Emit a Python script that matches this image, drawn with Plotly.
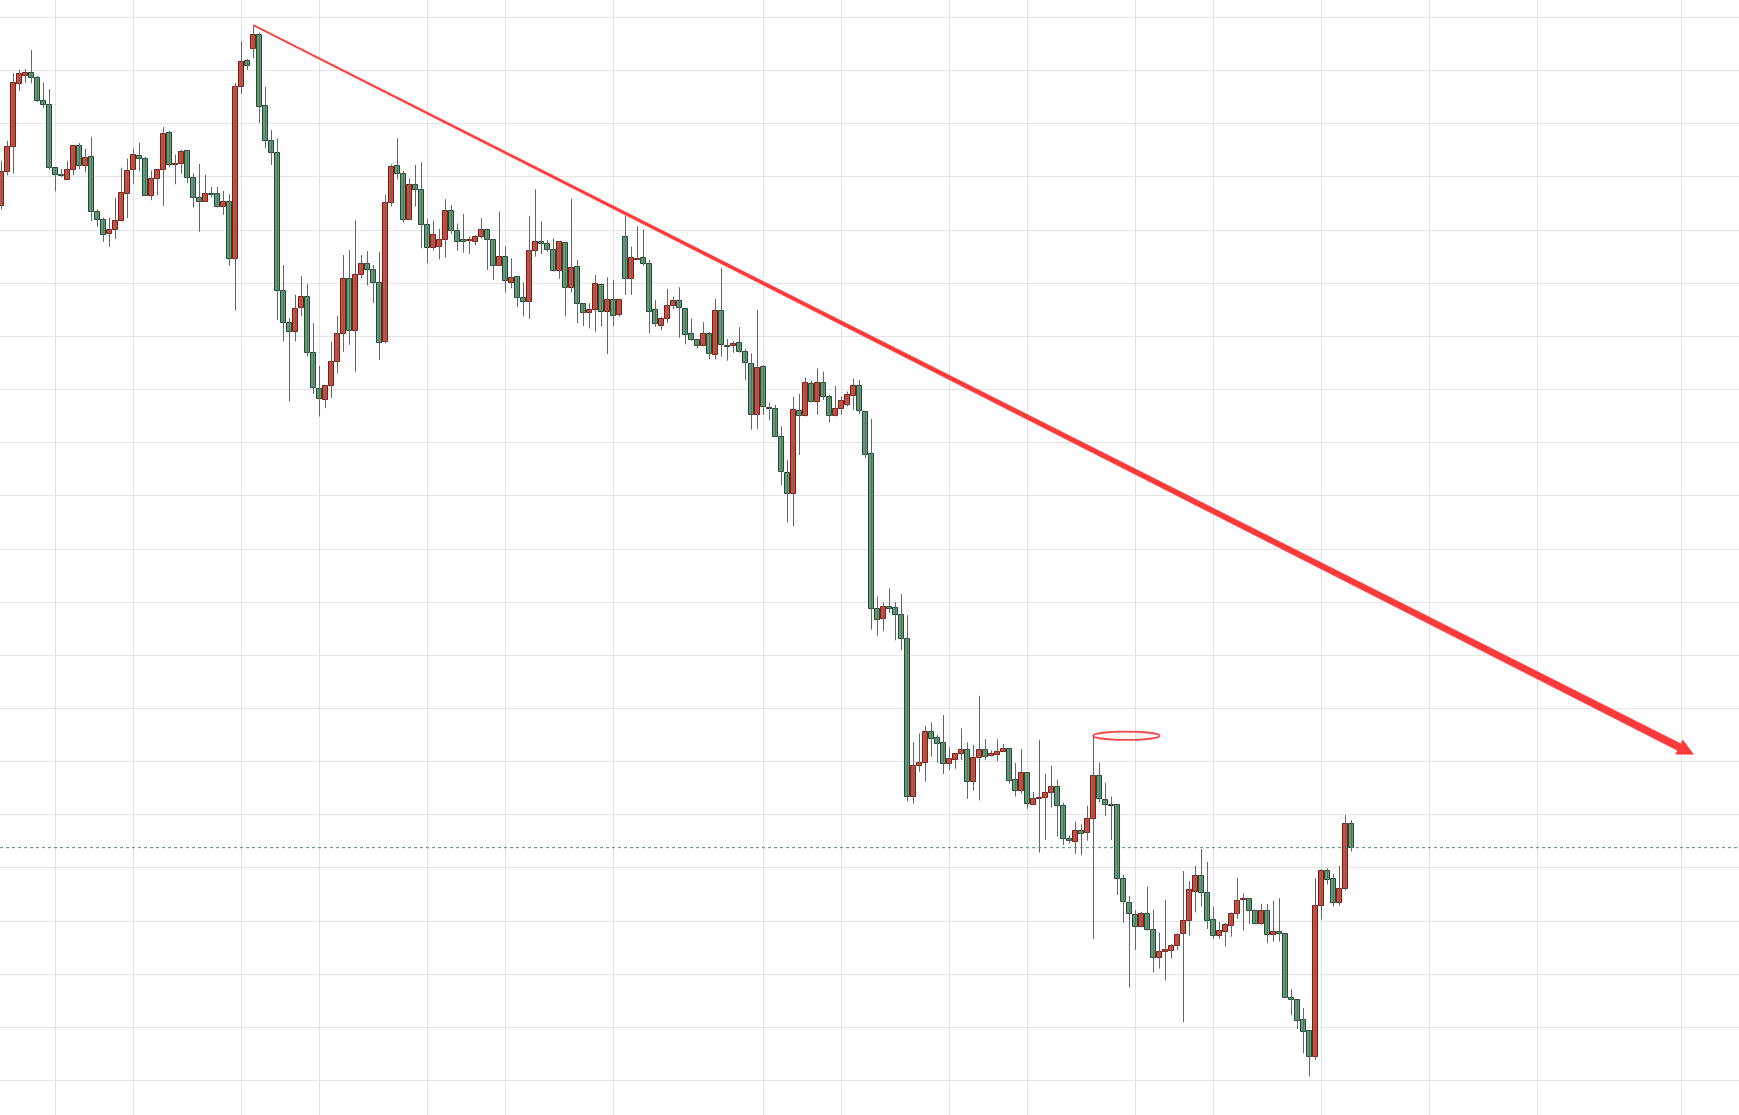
import numpy as np
import plotly.graph_objects as go

# ---------------- data ----------------
OPEN = [
    343.2, 353.5, 361.0, 379.9, 382.5, 383.2, 381.7, 374.8, 373.6, 354.7,
    352.6, 351.1, 354.1, 361.3, 355.3, 358.0, 341.4, 339.1, 334.9, 336.1,
    338.8, 346.9, 354.1, 358.3, 357.4, 346.3, 351.4, 354.1, 365.2, 355.6,
    355.9, 359.7, 351.6, 345.6, 344.6, 346.7, 346.8, 343.1, 344.4, 327.2,
    379.0, 386.9, 390.4, 394.7, 373.4, 362.9, 359.1, 317.8, 308.0, 305.3,
    312.5, 316.0, 299.0, 288.1, 284.9, 289.1, 296.4, 304.7, 321.2, 305.7,
    322.5, 325.7, 323.9, 320.0, 302.2, 344.1, 355.2, 352.8, 339.0, 349.5,
    348.0, 337.5, 330.5, 330.8, 332.9, 341.7, 335.6, 332.8, 332.6, 332.3,
    333.8, 336.0, 332.9, 325.1, 327.8, 320.2, 321.8, 315.5, 314.3, 329.6,
    332.3, 331.8, 329.9, 323.8, 332.0, 318.5, 324.8, 313.7, 311.0, 311.9,
    319.4, 311.5, 314.9, 310.4, 333.8, 321.2, 327.1, 327.5, 325.7, 311.9,
    307.2, 309.1, 313.1, 314.7, 312.2, 304.6, 302.8, 301.0, 304.6, 298.3,
    311.6, 301.1, 301.0, 301.9, 299.2, 295.6, 280.2, 294.7, 282.4, 282.1,
    273.8, 262.8, 256.5, 281.5, 279.9, 289.6, 284.4, 289.9, 285.7, 279.9,
    282.1, 283.5, 286.2, 289.0, 281.2, 268.5, 221.9, 218.9, 222.4, 222.2,
    220.1, 212.8, 165.5, 174.6, 175.5, 184.8, 183.0, 181.5, 175.2, 176.4,
    178.4, 179.4, 170.0, 177.0, 179.4, 177.6, 178.1, 179.0, 179.7, 170.4,
    167.3, 172.5, 162.9, 164.8, 164.9, 166.5, 168.3, 162.6, 152.6, 151.9,
    155.0, 154.4, 158.6, 171.6, 164.4, 163.0, 162.9, 140.8, 133.4, 129.8,
    126.1, 130.1, 125.2, 117.0, 118.9, 118.9, 120.4, 124.0, 128.1, 136.9,
    141.5, 136.4, 128.2, 123.4, 124.8, 126.6, 130.1, 134.3, 134.6, 131.0,
    127.2, 131.0, 123.7, 124.6, 124.0, 104.8, 104.2, 98.2, 94.8, 87.2,
    132.4, 143.0, 140.6, 133.3, 137.6, 157.1,
]
HIGH = [
    356.9, 362.9, 383.2, 384.2, 384.5, 390.2, 382.4, 380.4, 378.5, 354.7,
    354.4, 356.9, 361.7, 362.2, 360.5, 364.1, 342.2, 339.8, 339.8, 345.8,
    354.8, 357.5, 360.5, 362.3, 358.0, 354.0, 354.5, 367.0, 365.9, 358.7,
    360.2, 360.1, 353.1, 355.9, 352.6, 349.0, 349.0, 347.8, 346.8, 380.2,
    392.9, 387.5, 397.7, 395.5, 379.1, 366.1, 363.6, 325.5, 309.5, 316.5,
    322.2, 319.7, 308.0, 295.1, 289.4, 302.5, 310.2, 328.5, 330.0, 338.9,
    328.5, 329.7, 325.5, 329.4, 346.6, 355.8, 363.6, 353.8, 351.6, 355.6,
    356.4, 339.4, 338.8, 336.4, 345.3, 343.6, 338.0, 340.9, 334.0, 334.5,
    339.6, 336.0, 333.2, 341.6, 331.0, 327.5, 322.2, 320.2, 340.3, 348.3,
    338.6, 333.0, 333.5, 332.7, 332.5, 345.4, 327.0, 314.0, 314.0, 322.5,
    320.0, 321.8, 321.0, 315.4, 340.3, 331.0, 337.2, 336.2, 327.0, 315.0,
    309.9, 318.3, 316.0, 318.8, 312.5, 309.4, 303.1, 308.3, 305.4, 315.3,
    324.5, 303.2, 302.6, 306.8, 300.2, 298.9, 311.9, 295.4, 284.1, 283.4,
    276.9, 266.8, 285.8, 286.7, 291.6, 290.6, 294.4, 293.4, 286.4, 289.1,
    285.9, 287.4, 291.2, 290.9, 281.2, 279.2, 225.7, 223.9, 228.2, 224.0,
    226.5, 220.1, 181.8, 184.5, 186.7, 187.8, 184.0, 190.0, 180.3, 178.7,
    186.0, 181.8, 181.0, 195.8, 182.8, 179.4, 182.7, 181.3, 180.0, 175.6,
    179.8, 172.8, 166.9, 182.5, 172.3, 174.7, 170.5, 163.6, 153.8, 157.9,
    157.2, 162.7, 183.8, 175.7, 169.7, 165.5, 163.3, 141.9, 135.6, 131.3,
    130.8, 138.4, 131.4, 124.5, 134.4, 121.1, 124.3, 143.1, 140.1, 144.7,
    149.7, 145.8, 132.3, 127.7, 127.4, 130.6, 141.0, 136.3, 135.0, 131.3,
    133.2, 133.1, 134.1, 134.9, 124.3, 107.6, 104.2, 101.8, 94.8, 140.9,
    143.6, 143.9, 142.2, 144.6, 159.9, 158.4,
]
LOW = [
    342.2, 352.5, 353.0, 377.9, 380.4, 380.2, 374.6, 372.8, 354.2, 347.7,
    352.0, 351.1, 352.5, 354.3, 353.4, 338.7, 337.0, 332.5, 330.9, 333.3,
    338.6, 339.6, 349.8, 353.7, 346.3, 345.0, 346.5, 343.2, 354.9, 349.8,
    353.0, 350.1, 342.8, 335.5, 344.6, 345.8, 342.8, 340.6, 325.3, 311.8,
    377.0, 384.2, 387.7, 368.2, 360.6, 355.6, 309.0, 302.5, 284.4, 302.5,
    310.0, 298.0, 286.7, 279.9, 282.4, 285.4, 292.9, 299.4, 301.5, 293.4,
    321.5, 319.3, 314.0, 296.9, 301.9, 343.1, 351.3, 338.3, 339.0, 343.1,
    330.5, 326.0, 329.8, 327.2, 327.8, 334.8, 329.8, 329.2, 328.8, 331.5,
    333.5, 324.0, 321.0, 325.1, 317.2, 318.5, 312.8, 310.0, 309.2, 328.0,
    328.8, 329.5, 323.5, 321.3, 310.0, 317.2, 308.0, 307.1, 306.4, 305.4,
    306.9, 298.7, 307.1, 310.0, 316.5, 316.5, 327.0, 325.2, 304.9, 306.9,
    305.9, 308.0, 312.2, 303.6, 301.6, 302.7, 300.4, 301.0, 297.1, 297.1,
    297.9, 296.7, 299.1, 299.1, 290.9, 275.9, 276.2, 280.4, 278.7, 273.8,
    259.3, 248.0, 246.8, 268.3, 279.9, 284.2, 280.4, 284.9, 278.1, 279.9,
    280.4, 282.9, 281.9, 280.7, 267.4, 215.7, 213.9, 215.2, 220.7, 212.5,
    209.6, 164.0, 163.3, 173.0, 170.0, 177.5, 175.7, 172.3, 173.5, 173.9,
    176.5, 164.8, 167.3, 164.3, 176.5, 177.5, 176.2, 179.0, 169.3, 165.5,
    166.4, 161.8, 162.9, 148.6, 152.4, 162.2, 153.4, 150.9, 151.4, 148.2,
    147.8, 152.2, 122.6, 163.7, 159.6, 152.4, 135.9, 127.5, 108.0, 119.3,
    126.1, 125.2, 112.5, 113.7, 110.1, 116.7, 119.3, 97.5, 123.6, 130.6,
    132.4, 125.6, 122.6, 122.6, 120.3, 123.3, 128.7, 125.1, 127.2, 127.0,
    126.9, 121.3, 121.8, 121.8, 104.8, 99.6, 95.5, 88.2, 81.2, 86.2,
    128.5, 139.0, 132.4, 132.6, 137.2, 148.9,
]
CLOSE = [
    353.5, 361.0, 380.2, 382.9, 383.2, 381.7, 374.8, 373.6, 354.7, 352.6,
    352.5, 354.1, 361.3, 355.3, 357.7, 341.4, 339.1, 334.6, 336.1, 338.8,
    347.2, 353.8, 358.6, 357.4, 346.3, 351.4, 354.1, 364.9, 355.5, 356.0,
    359.5, 351.6, 345.6, 344.6, 346.8, 346.5, 343.1, 344.4, 327.2, 379.0,
    386.5, 385.5, 394.7, 373.0, 362.9, 359.1, 317.8, 308.0, 305.3, 312.2,
    316.0, 299.0, 288.4, 285.1, 289.1, 296.4, 304.7, 321.2, 305.7, 322.4,
    325.7, 323.9, 320.0, 301.9, 344.1, 354.9, 352.8, 339.0, 349.5, 348.0,
    337.5, 330.5, 334.4, 332.9, 341.7, 335.6, 332.3, 332.6, 333.0, 334.0,
    336.0, 332.9, 325.1, 327.8, 320.6, 321.5, 315.5, 314.3, 329.6, 332.3,
    331.7, 329.9, 323.8, 332.3, 318.5, 324.5, 313.7, 311.0, 311.9, 319.7,
    311.3, 314.9, 310.1, 314.9, 321.2, 327.5, 327.3, 325.7, 311.5, 307.7,
    309.2, 313.1, 314.7, 312.5, 304.5, 302.8, 301.0, 304.6, 298.6, 311.6,
    301.3, 300.9, 301.6, 299.2, 295.9, 280.2, 294.4, 282.7, 282.2, 273.8,
    263.1, 256.5, 281.8, 279.9, 289.9, 284.2, 289.9, 285.7, 279.9, 282.1,
    284.5, 286.3, 289.0, 281.4, 268.4, 221.9, 218.5, 222.4, 222.1, 220.1,
    212.9, 165.5, 174.6, 175.6, 184.8, 182.9, 181.4, 175.2, 176.7, 178.3,
    179.4, 170.0, 177.0, 179.4, 177.5, 178.2, 178.8, 179.7, 170.3, 167.3,
    172.5, 163.1, 164.7, 165.0, 166.5, 168.3, 162.6, 152.6, 152.0, 155.0,
    154.3, 158.6, 171.6, 164.7, 162.9, 162.8, 140.8, 133.6, 130.1, 126.1,
    130.1, 125.2, 116.8, 118.6, 119.1, 120.4, 123.7, 127.9, 137.3, 141.5,
    136.4, 128.1, 123.4, 125.0, 126.7, 130.1, 134.0, 134.5, 130.9, 127.2,
    131.0, 123.7, 124.6, 124.0, 104.8, 104.2, 97.9, 94.5, 87.2, 132.4,
    143.0, 140.3, 133.3, 137.6, 157.1, 150.1,
]

# vertical grid positions (candle slots) - the chart's date ticks
X_GRID_TICKS = [9, 22, 40, 53, 71, 84, 102, 127, 140, 158, 171, 189, 202, 220, 238, 256, 280]

# trend line annotation: from the high of candle 42 to the arrow tip
TREND_START_IDX = 42
TREND_END = (282.0, 178.2)
# highlight ellipse around the spike high of candle 182
ELLIPSE_IDX = (182, 193)
ELLIPSE_CANDLE = 182

# ---------------- styles ----------------
W, H = 1739, 1115
X_RANGE = [-1.5 / 6, (W - 1.5) / 6]
Y_RANGE = [69.62, 405.27]
UP_FILL, UP_LINE = "#DA4A3B", "#7A1B13"
DN_FILL, DN_LINE = "#5E9F78", "#1E4A33"
WICK = "#666666"
GRID = "#E4E4E4"
TREND = "#FB3B3B"

o = np.array(OPEN); h = np.array(HIGH); l = np.array(LOW); c = np.array(CLOSE)
n = len(o)
idx = np.arange(n)
up = c >= o

# wicks
wx, wy = [], []
for i in range(n):
    wx += [i, i, None]
    wy += [l[i], h[i], None]

fig = go.Figure()
fig.add_trace(go.Scatter(x=wx, y=wy, mode="lines",
                         line=dict(color=WICK, width=1),
                         hoverinfo="skip", showlegend=False))

# bodies
minh = 0.35
body = np.abs(c - o)
mid = (c + o) / 2
hgt = np.maximum(body, minh)
base = mid - hgt / 2
fig.add_trace(go.Bar(
    x=idx, y=hgt, base=base, width=0.68,
    marker=dict(color=[UP_FILL if u else DN_FILL for u in up],
                line=dict(color=[UP_LINE if u else DN_LINE for u in up], width=1)),
    hoverinfo="skip", showlegend=False))

# tapered trend line with arrowhead (built in pixel space then mapped back)
sx = W / (X_RANGE[1] - X_RANGE[0])
sy = H / (Y_RANGE[1] - Y_RANGE[0])
P0 = np.array([TREND_START_IDX * sx, h[TREND_START_IDX] * sy])
P1 = np.array([TREND_END[0] * sx, TREND_END[1] * sy])
d = (P1 - P0) / np.linalg.norm(P1 - P0)
nv = np.array([-d[1], d[0]])
t0, t1, AL, AW = 1.3, 7.4, 16.0, 8.0
B = P1 - AL * d
pts = [P0 + t0 / 2 * nv, B + t1 / 2 * nv, B + AW * nv, P1,
       B - AW * nv, B - t1 / 2 * nv, P0 - t0 / 2 * nv, P0 + t0 / 2 * nv]
fig.add_trace(go.Scatter(x=[p[0] / sx for p in pts], y=[p[1] / sy for p in pts],
                         mode="lines", fill="toself", fillcolor=TREND,
                         line=dict(color=TREND, width=0.5),
                         hoverinfo="skip", showlegend=False))

# ellipse around spike high
ey = h[ELLIPSE_CANDLE]
fig.add_shape(type="circle", xref="x", yref="y",
              x0=ELLIPSE_IDX[0] - 0.05, x1=ELLIPSE_IDX[1],
              y0=ey - 1.25, y1=ey + 1.25,
              line=dict(color="rgba(238,55,55,0.9)", width=1.8),
              fillcolor="rgba(255,120,120,0.06)")

# last price dotted line
fig.add_shape(type="line", xref="paper", yref="y", x0=0, x1=1,
              y0=c[-1], y1=c[-1],
              line=dict(color="#4E8A74", width=1, dash="dot"))

fig.update_layout(
    width=W, height=H,
    margin=dict(l=0, r=0, t=0, b=0),
    paper_bgcolor="white", plot_bgcolor="white",
    showlegend=False, bargap=0, barmode="overlay",
    xaxis=dict(range=X_RANGE, tickmode="array", tickvals=X_GRID_TICKS,
               showticklabels=False, showgrid=True, gridcolor=GRID, gridwidth=1,
               zeroline=False, showline=False, ticks="", fixedrange=True),
    yaxis=dict(range=Y_RANGE, tick0=0, dtick=16,
               showticklabels=False, showgrid=True, gridcolor=GRID, gridwidth=1,
               zeroline=False, showline=False, ticks="", fixedrange=True),
)

fig.write_html("out.html", config={"displayModeBar": False},
               post_script="document.body.style.margin='0';document.body.style.padding='0';"
                           "document.documentElement.style.overflow='hidden';")
